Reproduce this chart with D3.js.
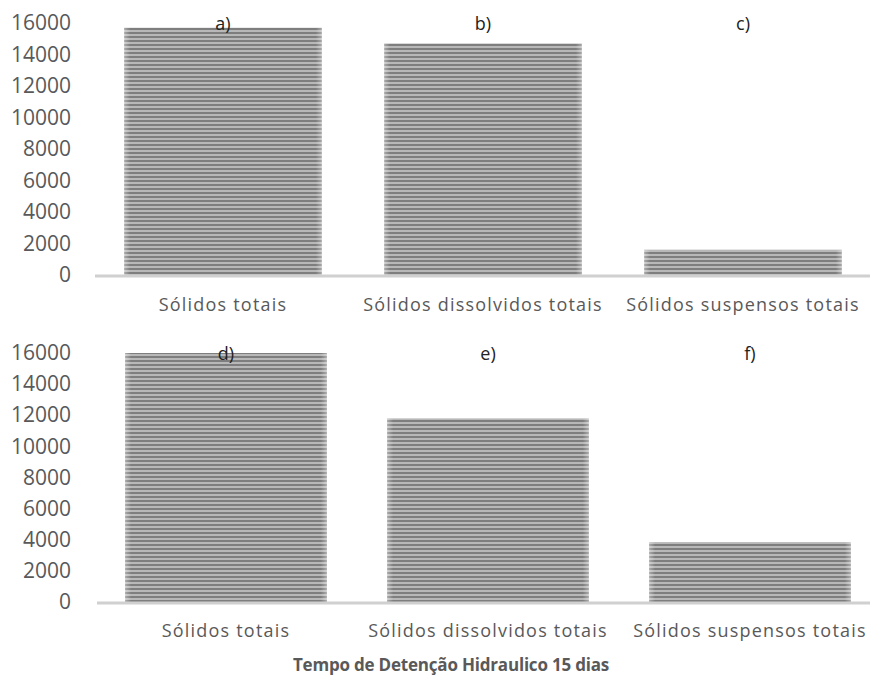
<!DOCTYPE html>
<html>
<head>
<meta charset="utf-8">
<script src="https://cdn.jsdelivr.net/npm/d3@7"></script>
<style>
  body { margin: 0; background: #fff; }
  text { font-family: "Open Sans", "Noto Sans", sans-serif; fill: #595959; }
</style>
</head>
<body>
<div id="chart"></div>
<script>
var CATEGORIES = ['Sólidos totais', 'Sólidos dissolvidos totais', 'Sólidos suspensos totais'];
var TOP_VALUES = [15700, 14700, 1600];
var BOTTOM_VALUES = [16000, 11800, 3850];
var TOP_LABELS = ['a)', 'b)', 'c)'];
var BOTTOM_LABELS = ['d)', 'e)', 'f)'];
var Y_TICKS = [0, 2000, 4000, 6000, 8000, 10000, 12000, 14000, 16000];
var TITLE = 'Tempo de Detenção Hidraulico 15 dias';

var width = 877, height = 680;

var svg = d3.select("#chart")
    .append("svg")
    .attr("width", width)
    .attr("height", height);

// striped fill like the original bars
var defs = svg.append("defs");
var pat = defs.append("pattern")
    .attr("id", "stripes")
    .attr("patternUnits", "userSpaceOnUse")
    .attr("width", 8)
    .attr("height", 4);
pat.append("rect").attr("width", 8).attr("height", 4).attr("fill", "#b8b8b8");
pat.append("rect").attr("y", 0).attr("width", 8).attr("height", 2).attr("fill", "#7e7e7e");

var edge = defs.append("linearGradient").attr("id", "edge");
edge.append("stop").attr("offset", "0%").attr("stop-color", "#fff").attr("stop-opacity", 0.35);
edge.append("stop").attr("offset", "3%").attr("stop-color", "#fff").attr("stop-opacity", 0);
edge.append("stop").attr("offset", "97%").attr("stop-color", "#fff").attr("stop-opacity", 0);
edge.append("stop").attr("offset", "100%").attr("stop-color", "#fff").attr("stop-opacity", 0.35);

function drawPanel(values, labels, opts) {
    var x = d3.scaleBand()
        .domain(CATEGORIES)
        .range([opts.x0, opts.x1])
        .paddingInner(opts.pad)
        .paddingOuter(opts.pad / 2);

    var y = d3.scaleLinear()
        .domain([0, 16000])
        .range([opts.y0, opts.y1]);

    var g = svg.append("g");

    // y axis
    var yAxis = g.append("g")
        .attr("transform", "translate(" + opts.axisX + ",0)")
        .call(d3.axisLeft(y).tickValues(Y_TICKS).tickSize(0).tickPadding(0).tickFormat(d3.format("d")));
    yAxis.select(".domain").remove();
    yAxis.selectAll("text")
        .style("font-size", "21px")
        .style("fill", "#595959")
        .style("font-family", "'Open Sans', sans-serif");

    var data = CATEGORIES.map(function(c, i) { return {cat: c, value: values[i], label: labels[i]}; });

    g.selectAll("rect.bar")
        .data(data)
        .enter()
        .append("rect")
        .attr("class", "bar")
        .attr("x", function(d) { return x(d.cat); })
        .attr("y", function(d) { return y(d.value); })
        .attr("width", x.bandwidth())
        .attr("height", function(d) { return opts.y0 - y(d.value); })
        .attr("fill", "url(#stripes)");

    g.selectAll("rect.edge")
        .data(data)
        .enter()
        .append("rect")
        .attr("class", "edge")
        .attr("x", function(d) { return x(d.cat); })
        .attr("y", function(d) { return y(d.value); })
        .attr("width", x.bandwidth())
        .attr("height", function(d) { return opts.y0 - y(d.value); })
        .attr("fill", "url(#edge)");

    // baseline
    g.append("line")
        .attr("x1", opts.lineX0)
        .attr("x2", opts.lineX1)
        .attr("y1", opts.y0 + 1)
        .attr("y2", opts.y0 + 1)
        .attr("stroke", "#d0d0d0")
        .attr("stroke-width", 3);

    // panel labels
    g.selectAll("text.plabel")
        .data(data)
        .enter()
        .append("text")
        .attr("class", "plabel")
        .attr("x", function(d) { return x(d.cat) + x.bandwidth() / 2; })
        .attr("y", y(16000) + 2)
        .attr("text-anchor", "middle")
        .attr("dominant-baseline", "middle")
        .style("font-size", "18px")
        .style("fill", "#222")
        .text(function(d) { return d.label; });

    // category labels
    g.selectAll("text.cat")
        .data(data)
        .enter()
        .append("text")
        .attr("class", "cat")
        .attr("x", function(d) { return x(d.cat) + x.bandwidth() / 2; })
        .attr("y", opts.catY)
        .attr("text-anchor", "middle")
        .attr("dominant-baseline", "middle")
        .style("font-size", "18px")
        .style("letter-spacing", "1.2px")
        .text(function(d) { return d.cat; });
}

drawPanel(TOP_VALUES, TOP_LABELS, {
    x0: 93, x1: 873, pad: 0.24, y0: 275, y1: 23, axisX: 71, lineX0: 95, lineX1: 870, catY: 306
});
drawPanel(BOTTOM_VALUES, BOTTOM_LABELS, {
    x0: 95, x1: 881, pad: 0.23, y0: 602, y1: 353, axisX: 71, lineX0: 97, lineX1: 870, catY: 632
});

svg.append("text")
    .attr("x", 451)
    .attr("y", 666)
    .attr("text-anchor", "middle")
    .attr("dominant-baseline", "middle")
    .style("font-size", "17px")
    .style("font-weight", "bold")
    .style("letter-spacing", "-0.2px")
    .text(TITLE);
</script>
</body>
</html>
